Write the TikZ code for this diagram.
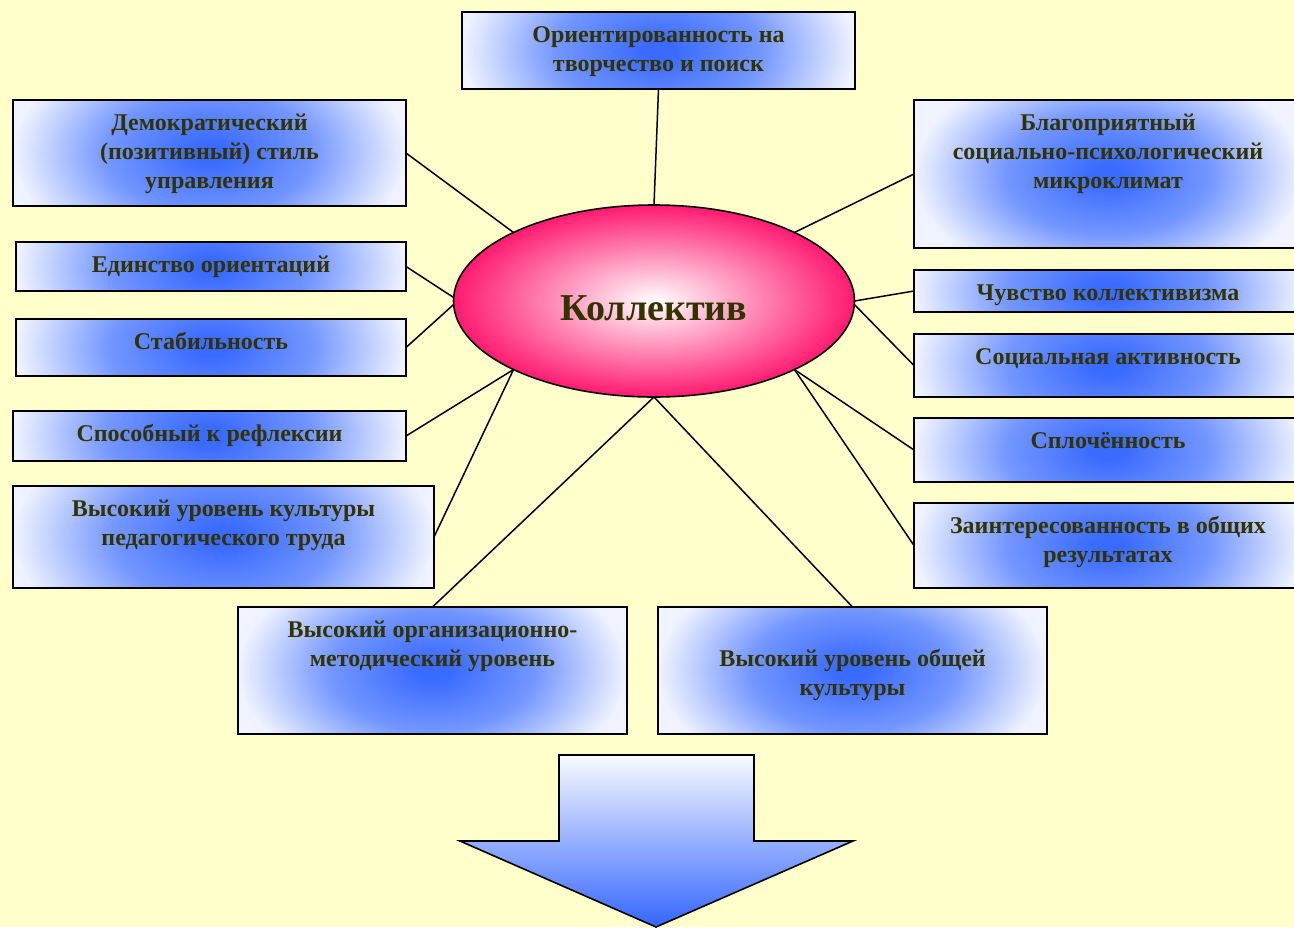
\documentclass[tikz,border=0pt]{standalone}
\usepackage{fontspec}
\setmainfont{Liberation Serif}
\usetikzlibrary{calc,shapes.geometric}
\definecolor{bg}{HTML}{FFFFCC}
\definecolor{txtc}{HTML}{333300}
\definecolor{bc}{HTML}{3A6BFF}
\definecolor{bm}{HTML}{7396FF}
\definecolor{bw}{HTML}{F0F3FF}
\definecolor{pinkedge}{HTML}{FF1A70}
\definecolor{arrowbot}{HTML}{3366FF}
\definecolor{arrowtop}{HTML}{FAFAFF}
\pgfdeclareradialshading{boxshade}{\pgfpoint{0bp}{0bp}}{color(0bp)=(bc); color(2bp)=(bc); color(13bp)=(bm); color(25bp)=(bw); color(50bp)=(white)}
\tikzset{
  box/.style={draw=black, line width=1.6pt, inner sep=0pt, outer sep=0pt, rectangle, fill=white,
    path picture={\shade[shading=boxshade] let \p1=(path picture bounding box.south west),
      \p2=(path picture bounding box.north east), \n1={(\x2-\x1)/2}, \n2={0.6*(\x2-\x1)/2} in
      ($(\p1)!0.5!(\p2)$) ++(-\n1,-\n2) rectangle ++(2*\n1,2*\n2);}},
  txt/.style={inner sep=0pt, text=txtc, font=\fontsize{24}{29}\selectfont\bfseries},
  conn/.style={draw=black, line width=1.5pt},
  center/.style={ellipse, draw=black, line width=1.6pt, inner sep=0pt, outer sep=0pt,
    minimum width=401, minimum height=192, inner color=white, outer color=pinkedge,
    text=txtc, font=\fontsize{38}{44}\selectfont\bfseries, text height=38pt, text depth=0pt}
}
\newcommand\mybox[7]{%
  \node[box, anchor=north west, minimum width={#4-#2}, minimum height={#5-#3}] (#1) at (#2,#3) {};
  \node[txt, anchor=base] (#1t) at ($(#1.north)+(0,#7)$) {\parbox[t]{\dimexpr#4pt-#2pt\relax}{\centering #6}};
}
\begin{document}
\begin{tikzpicture}[x=1pt,y=-1pt]
\fill[bg] (0,0) rectangle (1294,927);
\useasboundingbox (0,0) rectangle (1294,927);
\mybox{top}{462}{12}{855}{89}{Ориентированность на\\творчество и поиск}{30}
\mybox{demo}{13}{100}{406}{206}{Демократический\\(позитивный) стиль\\управления}{30}
\mybox{edin}{16}{242}{406}{291}{Единство ориентаций}{30}
\mybox{stab}{16}{319}{406}{376}{Стабильность}{30}
\mybox{refl}{13}{411}{406}{461}{Способный к рефлексии}{30}
\mybox{kult}{13}{486}{434}{588}{Высокий уровень культуры\\педагогического труда}{30}
\mybox{org}{238}{607}{627}{734}{Высокий организационно-\\методический уровень}{30}
\mybox{obsh}{658}{607}{1047}{734}{Высокий уровень общей\\культуры}{59}
\mybox{blag}{914}{100}{1302}{248}{Благоприятный\\социально-психологический\\микроклимат}{30}
\mybox{chuv}{914}{270}{1302}{312}{Чувство коллективизма}{30}
\mybox{soc}{914}{334}{1302}{397}{Социальная активность}{30}
\mybox{spl}{914}{418}{1302}{482}{Сплочённость}{30}
\mybox{zain}{914}{503}{1302}{588}{Заинтересованность в общих\\результатах}{30}
\node[center] (ell) at (654,301) {Коллектив};
\draw[conn] (top.south) -- (ell.90);
\draw[conn] (demo.east) -- (ell.154);
\draw[conn] (edin.east) -- (ell.179);
\draw[conn] (stab.east) -- (ell.181);
\draw[conn] (refl.east) -- (ell.206);
\draw[conn] (kult.east) -- (ell.206);
\draw[conn] (org.north) -- (ell.270);
\draw[conn] (obsh.north) -- (ell.270);
\draw[conn] (blag.west) -- (ell.26);
\draw[conn] (chuv.west) -- (ell.0);
\draw[conn] (soc.west) -- (ell.359);
\draw[conn] (spl.west) -- (ell.334);
\draw[conn] (zain.west) -- (ell.334);
\draw[line width=1.6pt, top color=arrowtop, bottom color=arrowbot]
  (559,755) -- (754,755) -- (754,841) -- (853,841) -- (656,927) -- (460,841) -- (559,841) -- cycle;
\end{tikzpicture}
\end{document}
